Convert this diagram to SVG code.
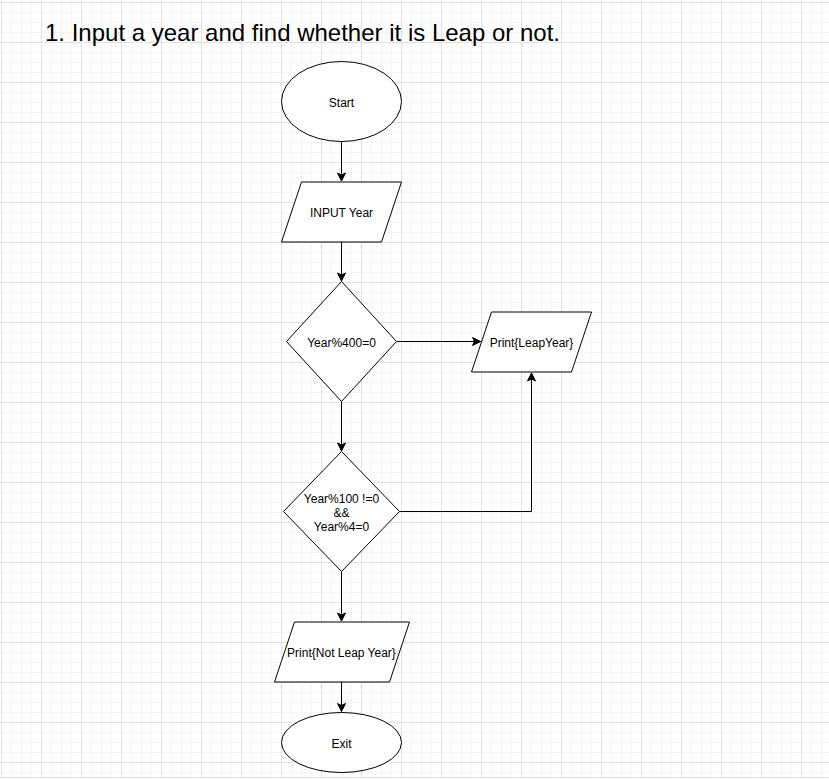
<svg xmlns="http://www.w3.org/2000/svg" width="829" height="779" viewBox="0 0 829 779">
<style>
.shape{fill:#ffffff;stroke:#000000;stroke-width:1}
.lbl{font-family:"Liberation Sans",Arial,sans-serif;font-size:12px;fill:#000000;text-anchor:middle}
.edge{fill:none;stroke:#000000;stroke-width:1}
</style>
<defs>
<pattern id="grid" patternUnits="userSpaceOnUse" x="1" y="2" width="40" height="40">
<path d="M10.5,0V40M20.5,0V40M30.5,0V40M0,10.5H40M0,20.5H40M0,30.5H40" stroke="#f5f5f5" stroke-width="1" fill="none"/>
<path d="M0.5,0V40M0,0.5H40" stroke="#e0e0e0" stroke-width="1" fill="none"/>
</pattern>
<marker id="arr" markerUnits="userSpaceOnUse" viewBox="-9 -5 10 10" refX="0" refY="0" markerWidth="10" markerHeight="10" orient="auto">
<path d="M0,0 L-8,-4 L-6,0 L-8,4 Z" fill="#000" stroke="#000" stroke-width="1" stroke-linejoin="miter"/>
</marker>
</defs>
<rect x="0" y="0" width="829" height="779" fill="#ffffff"/>
<rect x="0" y="0" width="829" height="778" fill="url(#grid)"/>
<line x1="0" y1="777.5" x2="829" y2="777.5" stroke="#e0e0e0"/>
<text x="45" y="41" font-family="'Liberation Sans',Arial,sans-serif" font-size="24" fill="#000">1. Input a year and find whether it is Leap or not.</text>
<g id="connectors">
<path class="edge" d="M341.5,141.5V181" marker-end="url(#arr)"/>
<path class="edge" d="M341.5,242V281" marker-end="url(#arr)"/>
<path class="edge" d="M396.5,341.5H480.5" marker-end="url(#arr)"/>
<path class="edge" d="M341.5,401.5V451" marker-end="url(#arr)"/>
<path class="edge" d="M399.5,511.5H531.5V373" marker-end="url(#arr)"/>
<path class="edge" d="M341.5,571.5V621" marker-end="url(#arr)"/>
<path class="edge" d="M341.5,682V711.5" marker-end="url(#arr)"/>
</g>
<g id="start">
<ellipse class="shape" cx="341.5" cy="101.5" rx="60" ry="40"/>
<text class="lbl" x="341.5" y="106.5">Start</text>
</g>
<g id="input">
<polygon class="shape" points="301.5,182 401.5,182 381.5,242 281.5,242"/>
<text class="lbl" x="341.5" y="217">INPUT Year</text>
</g>
<g id="dec400">
<polygon class="shape" points="341.5,281.5 396.5,341.5 341.5,401.5 286.5,341.5"/>
<text class="lbl" x="341.5" y="346.5">Year%400=0</text>
</g>
<g id="printLeap">
<polygon class="shape" points="491.5,312 591.5,312 571.5,372 471.5,372"/>
<text class="lbl" x="531.5" y="347">Print{LeapYear}</text>
</g>
<g id="dec100">
<polygon class="shape" points="341.5,451.5 399.5,511.5 341.5,571.5 283.5,511.5"/>
<text class="lbl" x="341.5" y="503">Year%100 !=0</text>
<text class="lbl" x="341.5" y="517">&amp;&amp;</text>
<text class="lbl" x="341.5" y="531">Year%4=0</text>
</g>
<g id="printNotLeap">
<polygon class="shape" points="294.5,622 409.5,622 389.5,682 274.5,682"/>
<text class="lbl" x="341.5" y="657">Print{Not Leap Year}</text>
</g>
<g id="exit">
<ellipse class="shape" cx="341.5" cy="742.5" rx="60" ry="30"/>
<text class="lbl" x="341.5" y="747.5">Exit</text>
</g>
</svg>
